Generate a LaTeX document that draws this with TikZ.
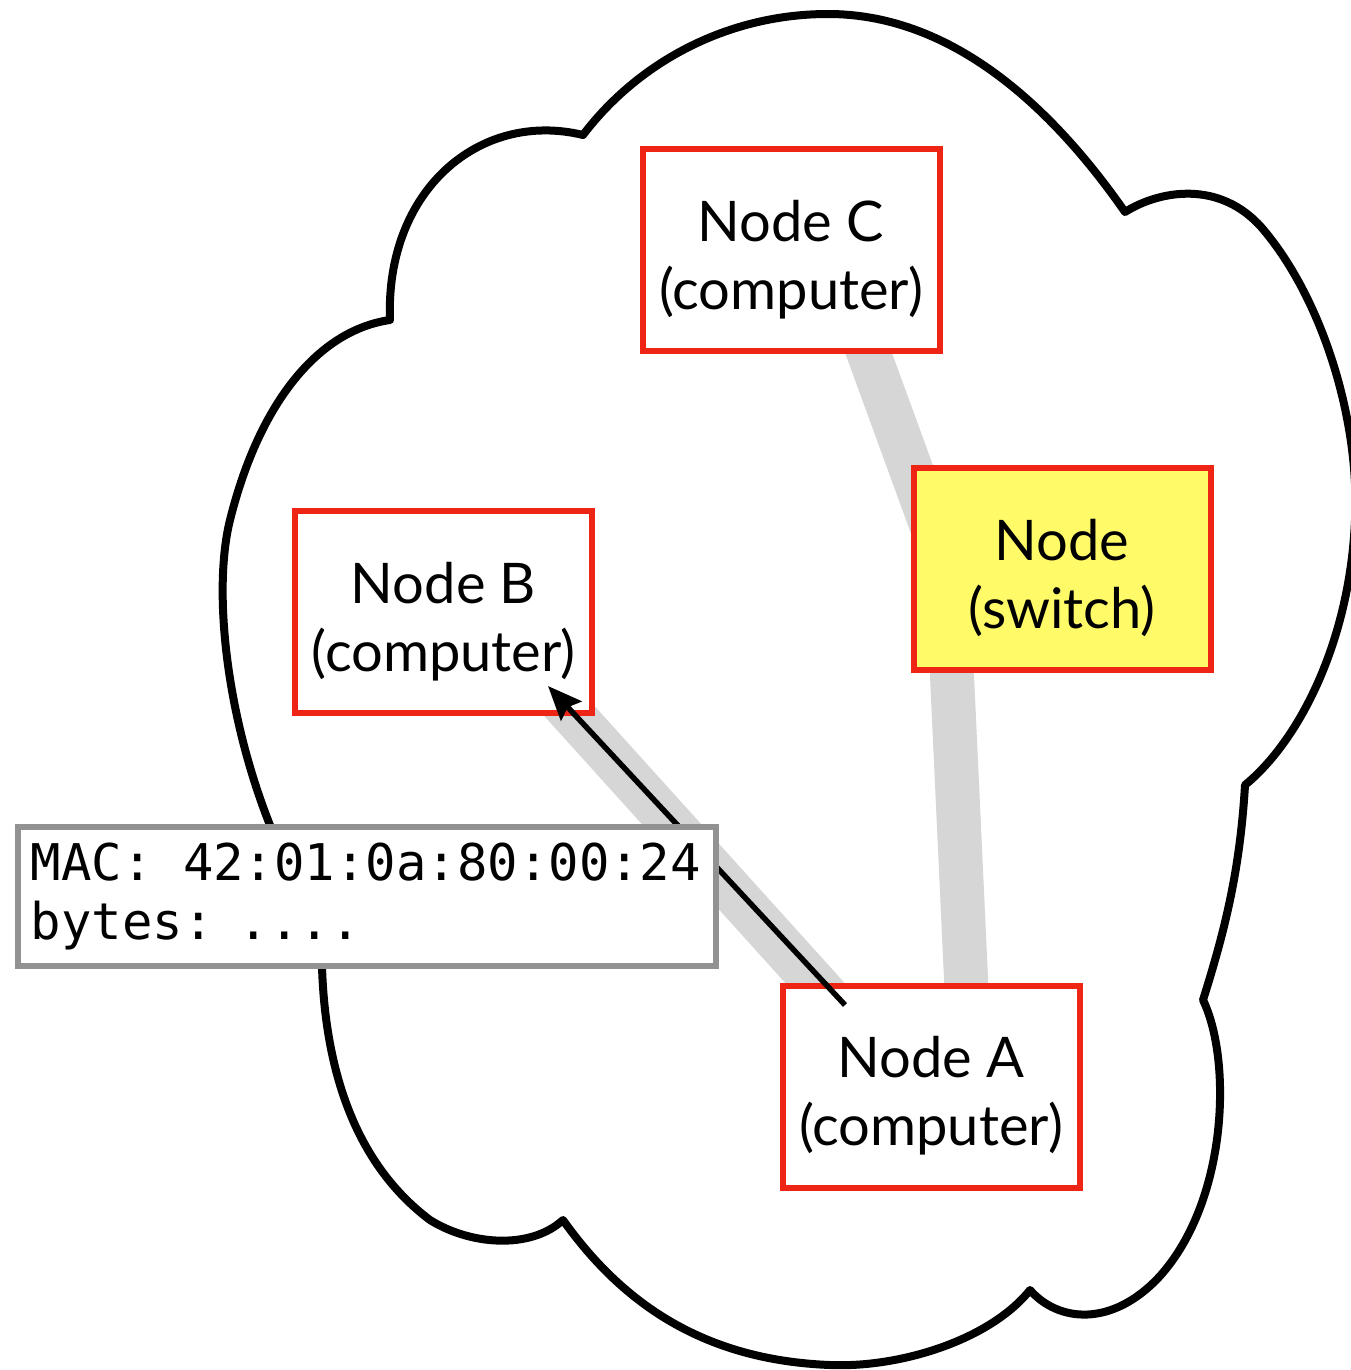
\documentclass[tikz,border=0pt]{standalone}
\usepackage{fontspec}
\setmainfont{Lato}
\setmonofont{DejaVu Sans Mono}
\usetikzlibrary{arrows.meta}
\definecolor{boxred}{RGB}{238,36,20}
\definecolor{swyellow}{RGB}{255,250,104}
\definecolor{bandgray}{RGB}{214,214,214}
\definecolor{macgray}{RGB}{146,146,146}
\newcommand{\topstrut}{\rule{0pt}{60pt}}
\tikzset{
  cloudline/.style={draw=black, fill=white, line width=8pt, line join=round},
  band/.style={draw=bandgray, line width=44pt},
  nodebox/.style={draw=boxred, fill=white, line width=6pt, rectangle,
    minimum width=297pt, minimum height=202pt, inner sep=0pt, align=center,
    font=\fontsize{56}{68}\selectfont},
  switchbox/.style={nodebox, fill=swyellow},
  macbox/.style={draw=macgray, fill=white, line width=5.5pt, rectangle,
    minimum height=139pt, text width=672pt, inner xsep=13pt, inner ysep=0pt,
    align=left, font=\ttfamily\fontsize{50.6}{59}\selectfont},
  msgarrow/.style={draw=black, line width=5.5pt, -{Stealth[length=34pt,width=28pt,inset=5pt]}}
}
\begin{document}
\begin{tikzpicture}[x=1pt,y=-1pt]
\useasboundingbox (0,0) rectangle (1351,1370);
% cloud
\path[cloudline] (390,320)
  .. controls (385,190) and (480,110) .. (583,135)
  .. controls (640,60) and (730,14) .. (828,14)
  .. controls (940,14) and (1040,90) .. (1125,212)
  .. controls (1160,190) and (1220,180) .. (1262,228)
  .. controls (1322,298) and (1360,420) .. (1355,520)
  .. controls (1350,640) and (1300,740) .. (1245,785)
  .. controls (1240,870) and (1225,930) .. (1203,1000)
  .. controls (1232,1060) and (1228,1200) .. (1160,1276)
  .. controls (1112,1328) and (1058,1322) .. (1030,1290)
  .. controls (990,1340) and (900,1368) .. (830,1365)
  .. controls (700,1360) and (620,1300) .. (563,1220)
  .. controls (530,1250) and (470,1245) .. (430,1220)
  .. controls (350,1160) and (325,1060) .. (322,967)
  -- (300,890)
  .. controls (230,760) and (210,600) .. (230,520)
  .. controls (260,400) and (320,330) .. (390,320) -- cycle;
% band end points
\coordinate (cC) at (831,250);
\coordinate (cS) at (947,568);
\coordinate (cA) at (971,1086);
\coordinate (cB) at (480,612);
\coordinate (cA2) at (908,1086);
\path[band] (cC) -- (cS) -- (cA);
\path[band] (cB) -- (cA2);
% nodes
\node[nodebox] (C) at (791,250) {\topstrut Node C\\(computer)};
\node[nodebox] (B) at (443.5,612) {\topstrut Node B\\(computer)};
\node[switchbox] (S) at (1062,568.5) {\topstrut Node\\(switch)};
\node[nodebox] (A) at (931,1086.5) {\topstrut Node A\\(computer)};
% arrow
\coordinate (atail) at (845,1005);
\coordinate (ahead) at (548,686);
\draw[msgarrow] (atail) -- (ahead);
% MAC box
\node[macbox, anchor=north west] (mac) at (15,824) {\spaceskip=30.46pt\relax MAC: 42:01:0a:80:00:24\\bytes: ....};
\end{tikzpicture}
\end{document}
